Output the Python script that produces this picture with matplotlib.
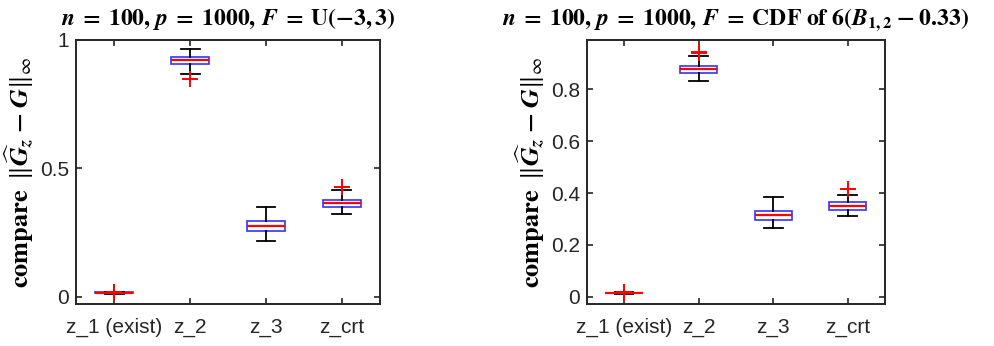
"""Boxplots comparing sup-norm errors for two noise distributions"""

import matplotlib.pyplot as plt

plt.rcParams["mathtext.fontset"] = "stix"
plt.rcParams["font.family"] = ["Liberation Sans", "DejaVu Sans"]

LABELS = ["z_1 (exist)", "z_2", "z_3", "z_crt"]

# Left panel: F = U(-3, 3)
unif_whislo = [0.012, 0.868, 0.217, 0.322]
unif_q1 = [0.014, 0.906, 0.256, 0.350]
unif_med = [0.016, 0.921, 0.275, 0.366]
unif_q3 = [0.017, 0.934, 0.295, 0.376]
unif_whishi = [0.018, 0.964, 0.348, 0.415]
unif_fliers = [[0.017, 0.019], [0.849], [], [0.426, 0.428]]

# Right panel: F = CDF of 6(B_{1,2} - 0.33)
beta_whislo = [0.012, 0.830, 0.265, 0.311]
beta_q1 = [0.013, 0.863, 0.296, 0.334]
beta_med = [0.015, 0.877, 0.315, 0.350]
beta_q3 = [0.016, 0.891, 0.332, 0.364]
beta_whishi = [0.017, 0.930, 0.386, 0.394]
beta_fliers = [[0.016, 0.019], [0.941, 0.945], [], [0.415]]

AX_COLOR = "#262626"


def make_stats(whislo, q1, med, q3, whishi, fliers):
    stats = []
    for i, lab in enumerate(LABELS):
        stats.append(
            dict(
                label=lab,
                whislo=whislo[i],
                q1=q1[i],
                med=med[i],
                q3=q3[i],
                whishi=whishi[i],
                fliers=fliers[i],
            )
        )
    return stats


def draw(ax, stats, title, ylim, yticks, yticklabels):
    ax.bxp(
        stats,
        widths=0.5,
        patch_artist=True,
        boxprops=dict(facecolor="white", edgecolor="#3333ff", linewidth=1.2),
        medianprops=dict(color="red", linewidth=1.6),
        whiskerprops=dict(color="black", linewidth=1.3),
        capprops=dict(color="black", linewidth=1.3),
        capwidths=0.25,
        flierprops=dict(marker="+", markeredgecolor="red", markersize=11,
                        markeredgewidth=1.4, linestyle="none"),
        zorder=3,
    )
    ax.set_xlim(0.5, 4.5)
    ax.set_ylim(*ylim)
    ax.set_yticks(yticks)
    ax.set_yticklabels(yticklabels)
    ax.tick_params(direction="in", top=True, right=True, length=4,
                   labelsize=15, colors=AX_COLOR, width=1.2)
    ax.tick_params(axis="x", pad=10)
    ax.tick_params(axis="y", pad=5)
    for sp in ax.spines.values():
        sp.set_linewidth(1.4)
        sp.set_color(AX_COLOR)
    ax.set_title(title, fontsize=17, pad=11)
    ax.set_ylabel(
        r"$\mathbf{compare}\;\;\Vert\widehat{\mathbfit{G}}_{\mathbfit{z}}"
        r"\;\mathbf{-}\;\mathbfit{G}\Vert_{\infty}$",
        fontsize=19, labelpad=3,
    )


fig = plt.figure(figsize=(9.95, 3.46), dpi=100)
ax1 = fig.add_axes([0.0764, 0.1214, 0.3055, 0.763])
ax2 = fig.add_axes([0.5897, 0.1214, 0.2998, 0.763])

draw(
    ax1,
    make_stats(unif_whislo, unif_q1, unif_med, unif_q3, unif_whishi, unif_fliers),
    r"$\mathbfit{n}\;\mathbf{=}\;\mathbf{100,}\,\mathbfit{p}\;\mathbf{=}\;"
    r"\mathbf{1000,}\,\mathbfit{F}\;\mathbf{=}\;\mathbf{U(-3,3)}$",
    (-0.028, 1.0),
    [0, 0.5, 1],
    ["0", "0.5", "1"],
)
draw(
    ax2,
    make_stats(beta_whislo, beta_q1, beta_med, beta_q3, beta_whishi, beta_fliers),
    r"$\mathbfit{n}\;\mathbf{=}\;\mathbf{100,}\,\mathbfit{p}\;\mathbf{=}\;"
    r"\mathbf{1000,}\,\mathbfit{F}\;\mathbf{=}\;\mathbf{CDF\ of\ 6(}"
    r"\mathbfit{B}_{\mathbf{1,2}}\;\mathbf{-}\;\mathbf{0.33)}$",
    (-0.028, 0.99),
    [0, 0.2, 0.4, 0.6, 0.8],
    ["0", "0.2", "0.4", "0.6", "0.8"],
)

fig.savefig("out.png", dpi=100)
